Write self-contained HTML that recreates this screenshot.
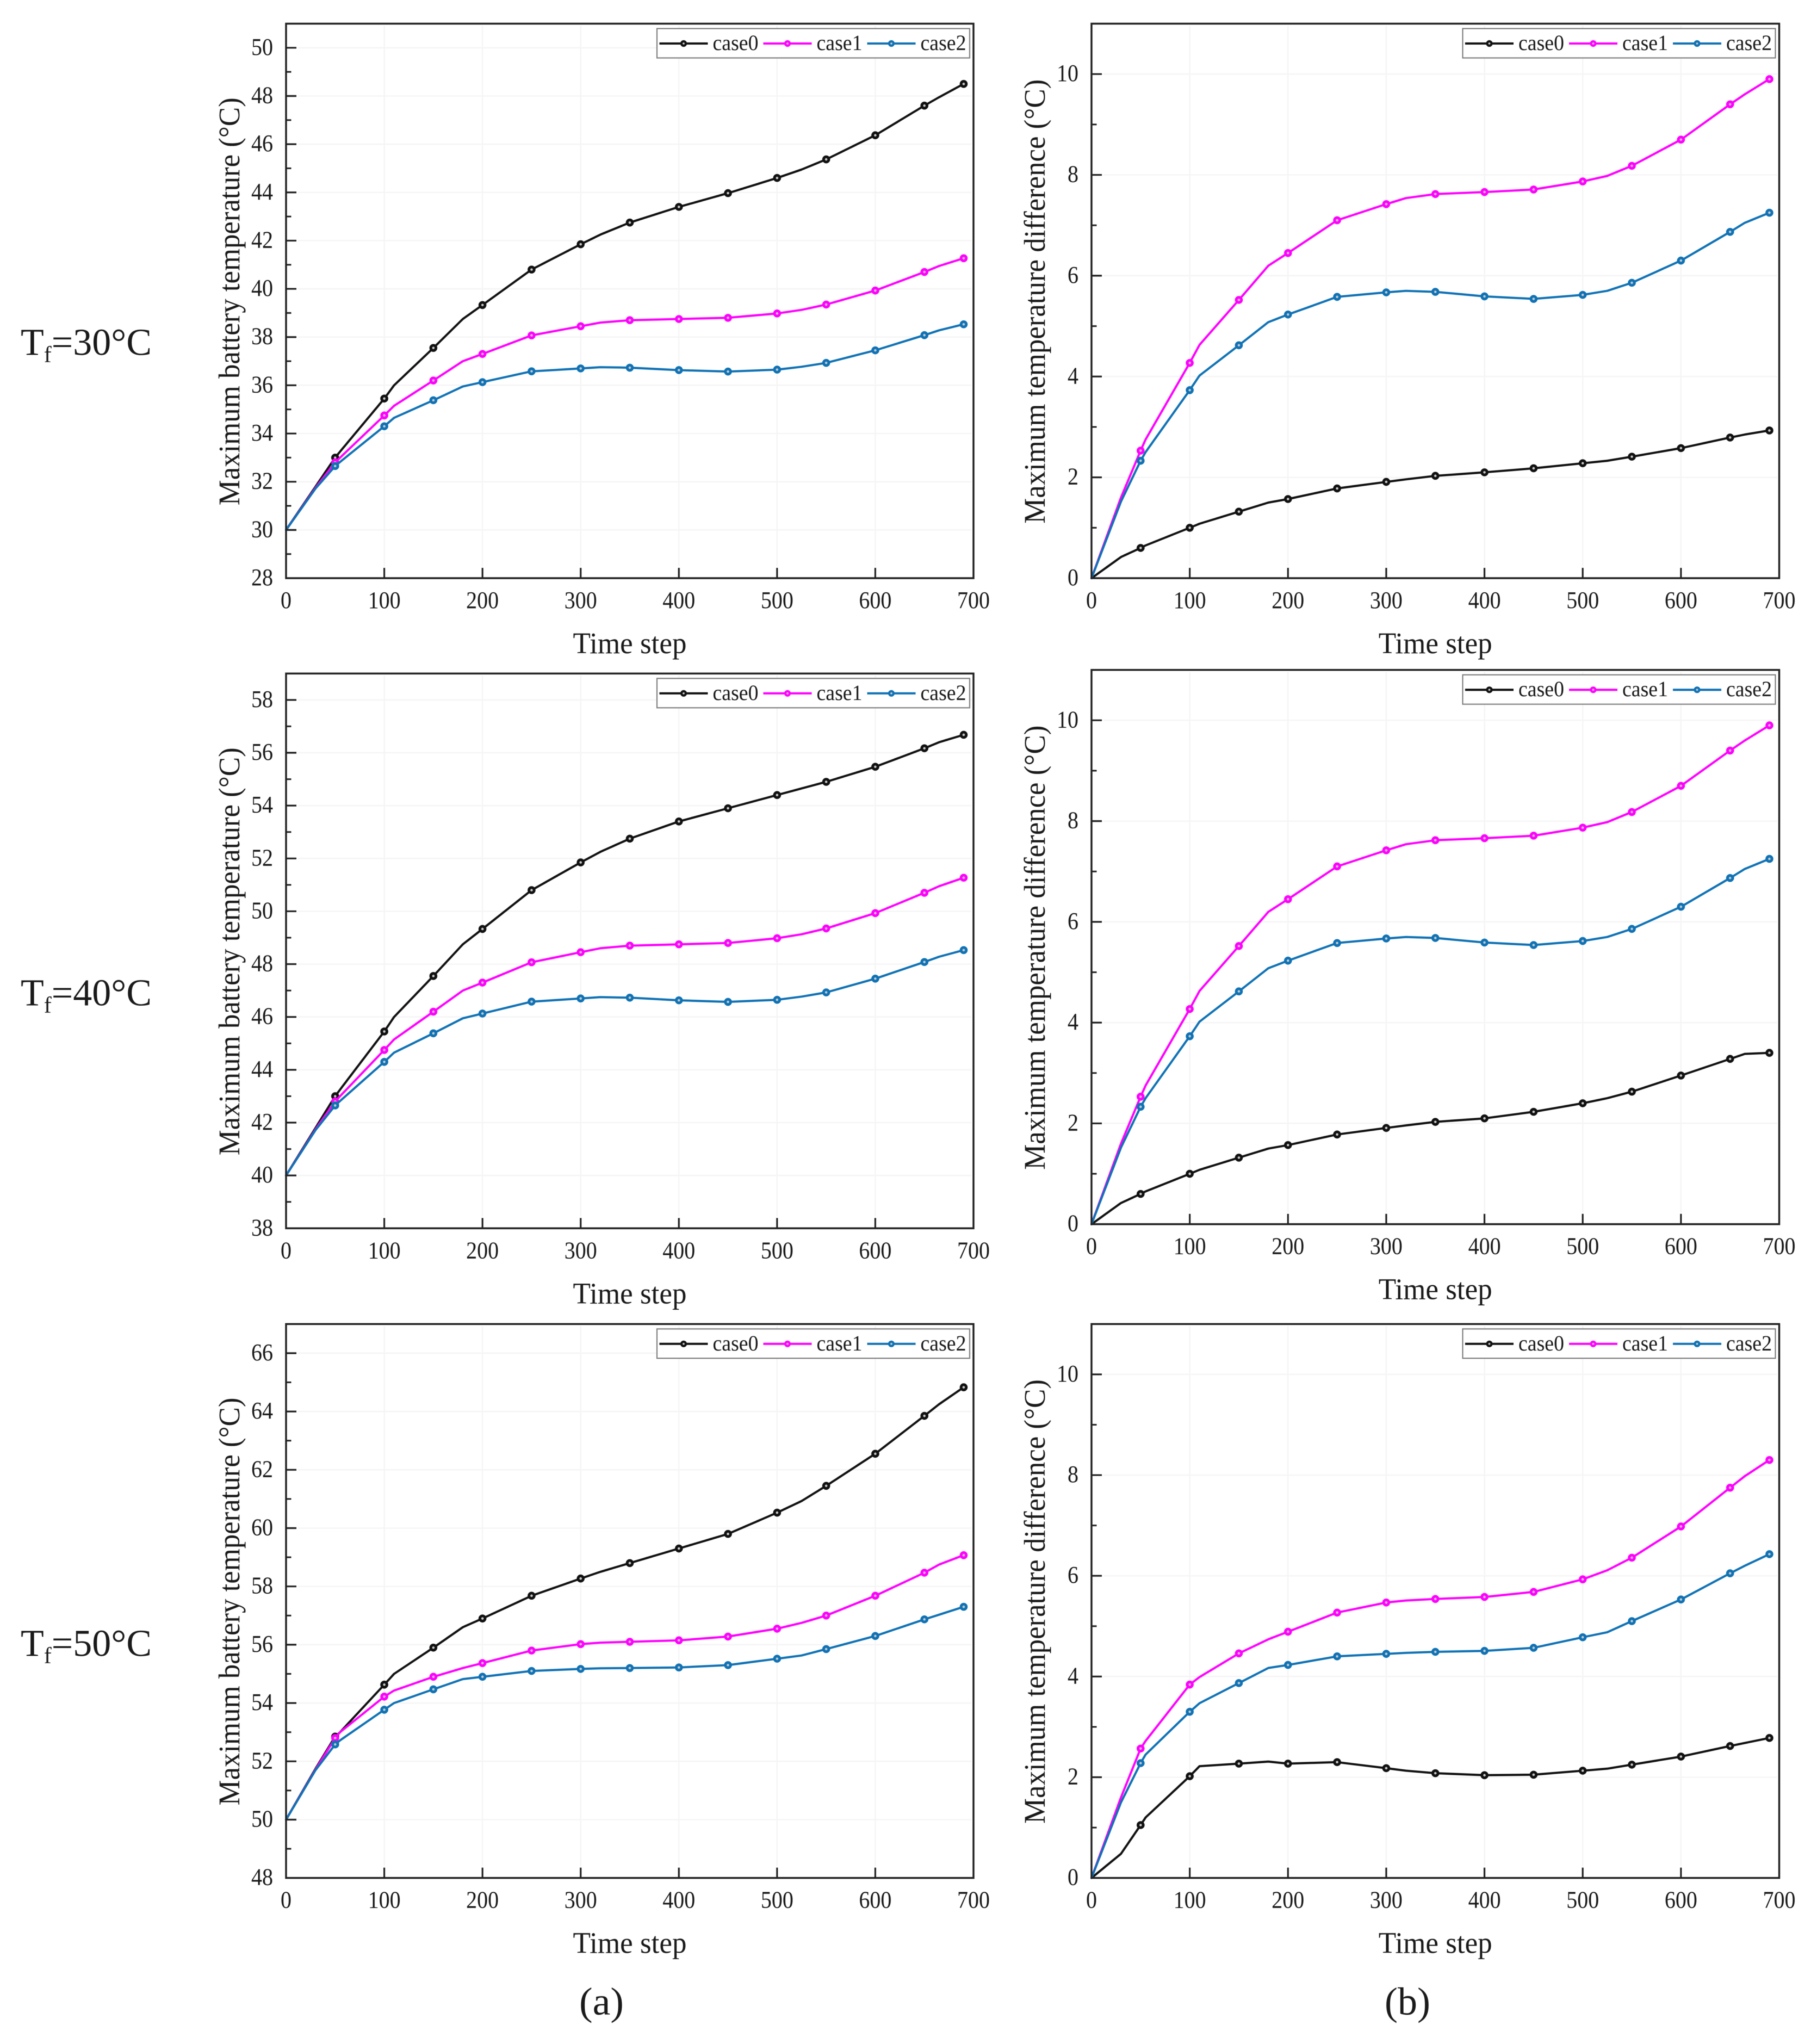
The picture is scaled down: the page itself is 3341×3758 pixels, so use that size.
<!DOCTYPE html>
<html lang="en">
<head>
<meta charset="utf-8">
<title>Battery temperature charts</title>
<style>
html,body{margin:0;padding:0;background:#fff;}
#figure{display:block;width:3341px;height:3758px;filter:blur(0.7px);}
text{font-family:"Liberation Serif",serif;fill:#1a1a1a;}
</style>
</head>
<body>
<svg id="figure" xmlns="http://www.w3.org/2000/svg" width="3341" height="3758" viewBox="0 0 3341 3758"></svg>
<script>
// ---- shared data ----
const timeSteps = [0,30,50,55,100,110,150,180,200,250,300,320,350,400,450,500,525,550,600,650,665,690];
const markerSteps = [50,100,150,200,250,300,350,400,450,500,550,600,650,690];
const xTickLabels = [0,100,200,300,400,500,600,700];
const seriesNames = ["case0","case1","case2"];
const seriesColors = ["#111111","#ff00ff","#0f72b5"];

// ---- maximum battery temperature ----
const temp30Case0 = [30,31.8,33.0,33.25,35.45,36.0,37.55,38.75,39.33,40.8,41.85,42.25,42.75,43.4,43.97,44.6,44.95,45.37,46.37,47.6,47.95,48.5];
const temp30Case1 = [30,31.75,32.8,33.0,34.75,35.15,36.2,37.0,37.3,38.07,38.45,38.6,38.7,38.75,38.8,38.98,39.13,39.35,39.93,40.7,40.95,41.27];
const temp30Case2 = [30,31.72,32.65,32.82,34.3,34.65,35.38,35.95,36.13,36.58,36.7,36.75,36.73,36.63,36.57,36.65,36.77,36.93,37.45,38.08,38.28,38.53];

const temp40Case0 = [40,41.8,43.0,43.25,45.45,46.0,47.55,48.75,49.33,50.8,51.85,52.25,52.75,53.4,53.9,54.4,54.65,54.9,55.47,56.17,56.4,56.68];
const temp40Case1 = [40,41.75,42.8,43.0,44.75,45.15,46.2,47.0,47.3,48.07,48.45,48.6,48.7,48.75,48.8,48.98,49.13,49.35,49.93,50.7,50.95,51.27];
const temp40Case2 = [40,41.72,42.65,42.82,44.3,44.65,45.38,45.95,46.13,46.58,46.7,46.75,46.73,46.63,46.57,46.65,46.77,46.93,47.45,48.08,48.28,48.53];

const temp50Case0 = [50,51.75,52.85,53.0,54.63,55.0,55.9,56.6,56.9,57.68,58.27,58.5,58.8,59.3,59.8,60.53,60.93,61.45,62.55,63.85,64.25,64.83];
const temp50Case1 = [50,51.72,52.8,53.0,54.22,54.43,54.9,55.2,55.37,55.8,56.02,56.07,56.1,56.15,56.28,56.55,56.75,57.0,57.68,58.47,58.75,59.07];
const temp50Case2 = [50,51.7,52.58,52.72,53.77,54.0,54.47,54.82,54.9,55.1,55.17,55.19,55.2,55.22,55.3,55.52,55.63,55.85,56.3,56.87,57.03,57.3];

// ---- maximum temperature difference ----
const diff30Case0 = [0,0.42,0.6,0.65,1.0,1.08,1.32,1.5,1.57,1.78,1.91,1.96,2.03,2.1,2.18,2.28,2.33,2.41,2.58,2.79,2.85,2.93];
const diff30Case1 = [0,1.6,2.53,2.75,4.27,4.63,5.52,6.2,6.45,7.1,7.42,7.54,7.62,7.66,7.71,7.87,7.98,8.18,8.7,9.4,9.6,9.9];
const diff30Case2 = [0,1.52,2.33,2.5,3.73,4.02,4.62,5.08,5.23,5.58,5.67,5.7,5.68,5.59,5.54,5.62,5.7,5.86,6.3,6.87,7.05,7.25];

const diff40Case0 = [0,0.42,0.6,0.65,1.0,1.08,1.32,1.5,1.57,1.78,1.91,1.96,2.03,2.1,2.23,2.4,2.5,2.63,2.95,3.28,3.38,3.4];
const diff40Case1 = [0,1.6,2.53,2.75,4.27,4.63,5.52,6.2,6.45,7.1,7.42,7.54,7.62,7.66,7.71,7.87,7.98,8.18,8.7,9.4,9.6,9.9];
const diff40Case2 = [0,1.52,2.33,2.5,3.73,4.02,4.62,5.08,5.23,5.58,5.67,5.7,5.68,5.59,5.54,5.62,5.7,5.86,6.3,6.87,7.05,7.25];

const diff50Case0 = [0,0.48,1.05,1.2,2.02,2.22,2.27,2.31,2.27,2.3,2.18,2.13,2.08,2.04,2.05,2.13,2.17,2.25,2.41,2.62,2.68,2.78];
const diff50Case1 = [0,1.6,2.57,2.72,3.84,3.99,4.46,4.74,4.89,5.27,5.47,5.51,5.54,5.58,5.68,5.93,6.11,6.36,6.98,7.75,7.98,8.3];
const diff50Case2 = [0,1.5,2.28,2.45,3.3,3.47,3.87,4.17,4.23,4.4,4.45,4.47,4.49,4.51,4.57,4.78,4.88,5.1,5.53,6.05,6.2,6.43];

// ---- y tick labels ----
const yTicks30 = [28,30,32,34,36,38,40,42,44,46,48,50];
const yTicks40 = [38,40,42,44,46,48,50,52,54,56,58];
const yTicks50 = [48,50,52,54,56,58,60,62,64,66];
const yTicksDiff = [0,2,4,6,8,10];

// ---- text ----
const tempTitle = "Maximum battery temperature (°C)";
const diffTitle = "Maximum temperature difference (°C)";
const xTitle = "Time step";
const rowLabels = ["30","40","50"];

// ---- panels (layout is kept separately from the values) ----
const panels = [
  {id:"temp-30",left:526,right:1790,top:43.5,bottom:1063,yMin:28,yMax:51,ticks:yTicks30,series:[temp30Case0,temp30Case1,temp30Case2],title:tempTitle,titleLen:750},
  {id:"diff-30",left:2007,right:3271.5,top:43.5,bottom:1063,yMin:0,yMax:11,ticks:yTicksDiff,series:[diff30Case0,diff30Case1,diff30Case2],title:diffTitle,titleLen:817},
  {id:"temp-40",left:526,right:1790,top:1238.3,bottom:2258.3,yMin:38,yMax:59,ticks:yTicks40,series:[temp40Case0,temp40Case1,temp40Case2],title:tempTitle,titleLen:750},
  {id:"diff-40",left:2007,right:3271.5,top:1231.7,bottom:2250.7,yMin:0,yMax:11,ticks:yTicksDiff,series:[diff40Case0,diff40Case1,diff40Case2],title:diffTitle,titleLen:817},
  {id:"temp-50",left:526,right:1790,top:2434.3,bottom:3452.7,yMin:48,yMax:67,ticks:yTicks50,series:[temp50Case0,temp50Case1,temp50Case2],title:tempTitle,titleLen:750},
  {id:"diff-50",left:2007,right:3271.5,top:2434.3,bottom:3452.7,yMin:0,yMax:11,ticks:yTicksDiff,series:[diff50Case0,diff50Case1,diff50Case2],title:diffTitle,titleLen:817}
];

const NS = "http://www.w3.org/2000/svg";
const root = document.getElementById("figure");
const AXIS = "#222222";
const XMAX = 700;

function make(tag, attrs, parent, content) {
  const el = document.createElementNS(NS, tag);
  for (const k in attrs) el.setAttribute(k, attrs[k]);
  if (content !== undefined) el.textContent = content;
  parent.appendChild(el);
  return el;
}

panels.forEach(function (p) {
  const g = make("g", {}, root);
  
  
  const sx = function (v) { return p.left + (v / XMAX) * (p.right - p.left); };
  const sy = function (v) { return p.bottom - ((v - p.yMin) / (p.yMax - p.yMin)) * (p.bottom - p.top); };

  // gridlines
  xTickLabels.forEach(function (t) {
    if (t === 0 || t === XMAX) return;
    const el = make("line", {x1:sx(t),x2:sx(t),y1:p.top+4,y2:p.bottom-22,stroke:"#f5f5f5","stroke-width":2.5}, g);
    
    
  });
  p.ticks.forEach(function (t) {
    if (t === p.yMin) return;
    const el = make("line", {x1:p.left+22,x2:p.right-4,y1:sy(t),y2:sy(t),stroke:"#f5f5f5","stroke-width":2.5}, g);
    
    
  });

  // series
  p.series.forEach(function (vals, i) {
    const pts = timeSteps.map(function (t, k) { return sx(t).toFixed(1) + "," + sy(vals[k]).toFixed(1); }).join(" ");
    const line = make("polyline", {points:pts,fill:"none",stroke:seriesColors[i],"stroke-width":4,"stroke-linejoin":"round","stroke-linecap":"round"}, g);
    
    
    timeSteps.forEach(function (t, k) {
      if (markerSteps.indexOf(t) < 0) return;
      const c = make("circle", {cx:sx(t),cy:sy(vals[k]),r:4.8,fill:"#c8c8c8",stroke:seriesColors[i],"stroke-width":5}, g);
      
      
    });
  });

  // frame
  const frame = make("rect", {x:p.left,y:p.top,width:p.right-p.left,height:p.bottom-p.top,fill:"none",stroke:AXIS,"stroke-width":3.5}, g);
  
  

  // y ticks
  p.ticks.forEach(function (t, i) {
    const y = sy(t);
    if (t !== p.yMin) {
      const tick = make("line", {x1:p.left,x2:p.left+19,y1:y,y2:y,stroke:AXIS,"stroke-width":3.2}, g);
      
      
    }
    const step = p.ticks[1] - p.ticks[0];
    const minorVal = t + step / 2;
    if (minorVal < p.yMax) {
      const minor = make("line", {x1:p.left,x2:p.left+9.5,y1:sy(minorVal),y2:sy(minorVal),stroke:AXIS,"stroke-width":3}, g);
      
      
    }
    const label = String(t);
    const txt = make("text", {x:p.left-24,y:y+13,"text-anchor":"end","font-size":44,textLength:label.length*20,lengthAdjust:"spacingAndGlyphs"}, g, label);
    
    
  });

  // x ticks
  xTickLabels.forEach(function (t) {
    const x = sx(t);
    if (t !== 0 && t !== XMAX) {
      const tick = make("line", {x1:x,x2:x,y1:p.bottom,y2:p.bottom-19,stroke:AXIS,"stroke-width":3.2}, g);
      
      
    }
    const label = String(t);
    const txt = make("text", {x:x,y:p.bottom+55,"text-anchor":"middle","font-size":44,textLength:label.length*20,lengthAdjust:"spacingAndGlyphs"}, g, label);
    
    
  });

  // axis titles
  const xt = make("text", {x:(p.left+p.right)/2,y:p.bottom+138,"text-anchor":"middle","font-size":55,textLength:209,lengthAdjust:"spacingAndGlyphs"}, g, xTitle);
  
  
  const cy = (p.top + p.bottom) / 2 + 1;
  const yt = make("text", {x:0,y:0,transform:"translate(" + (p.left-86) + "," + cy + ") rotate(-90)","text-anchor":"middle","font-size":55,textLength:p.titleLen,lengthAdjust:"spacingAndGlyphs"}, g, p.title);
  
  

  // legend
  const lg = make("g", {}, g);
  
  
  const box = make("rect", {x:p.right-582,y:p.top+9,width:575,height:54,fill:"#ffffff",stroke:"#808080","stroke-width":2.2}, lg);
  
  
  seriesNames.forEach(function (name, i) {
    const x0 = p.right - 577.5 + i * 191;
    const ly = p.top + 36.5;
    const seg = make("line", {x1:x0,x2:x0+89,y1:ly,y2:ly,stroke:seriesColors[i],"stroke-width":4}, lg);
    
    
    const mk = make("circle", {cx:x0+44.5,cy:ly,r:4,fill:"#c8c8c8",stroke:seriesColors[i],"stroke-width":4.2}, lg);
    
    
    const tx = make("text", {x:x0+98,y:p.top+48.5,"font-size":40,textLength:84,lengthAdjust:"spacingAndGlyphs"}, lg, name);
    
    
  });
});

// row labels
rowLabels.forEach(function (v, i) {
  const base = 652.6 + i * 1196;
  const t = make("text", {x:38,y:base,"font-size":70}, root);
  
  
  const a = make("tspan", {}, t, "T");
  const b = make("tspan", {dy:13,"font-size":42}, t, "f");
  const c = make("tspan", {dy:-13}, t, "=" + v + "°C");
  
  
  
  
  
  
});

// column captions
const capA = make("text", {x:1106,y:3704,"text-anchor":"middle","font-size":72,textLength:82,lengthAdjust:"spacingAndGlyphs"}, root, "(a)");


const capB = make("text", {x:2588,y:3704,"text-anchor":"middle","font-size":72,textLength:84,lengthAdjust:"spacingAndGlyphs"}, root, "(b)");


</script>
</body>
</html>
